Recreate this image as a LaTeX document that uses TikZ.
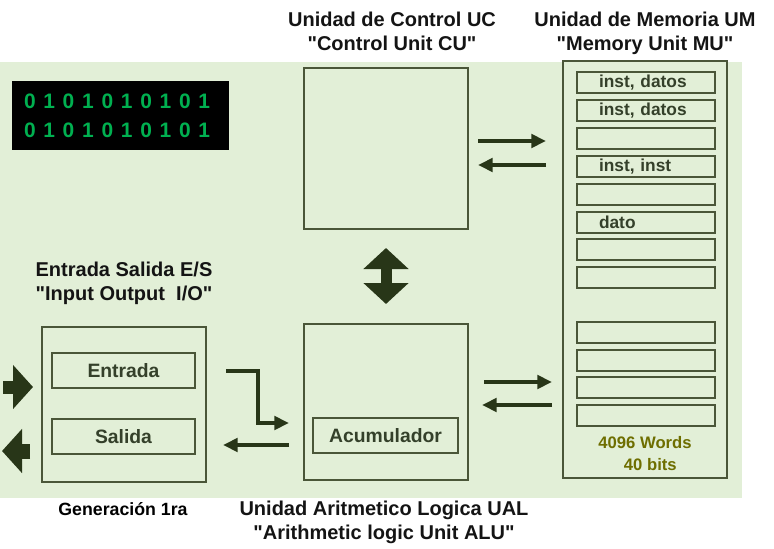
\documentclass[tikz,border=0pt]{standalone}
\usepackage{fontspec}
\setmainfont{Liberation Sans}[Ligatures=TeXOff]
\usetikzlibrary{arrows.meta, positioning}
\definecolor{bakgrunn}{HTML}{E2EFD7}
\definecolor{kant}{HTML}{4A5638}
\definecolor{mork}{HTML}{283618}
\definecolor{tekst}{HTML}{34402A}
\definecolor{bitgronn}{HTML}{00B050}
\definecolor{oliven}{HTML}{6E6E00}
\newcommand{\mellom}{\hspace{.37em}}
\newcommand{\bitrad}{0\mellom1\mellom0\mellom1\mellom0\mellom1\mellom0\mellom1\mellom0\mellom1}

\begin{document}
\begin{tikzpicture}[
        x=0.75pt, y=-0.75pt,
        boks/.style = {rectangle, draw=kant, line width=1.5pt, inner sep=0pt, text=tekst, font=\fontsize{14.5}{17}\selectfont\bfseries},
        celle/.style = {boks, minimum height=15.75pt, text width=70.5pt, inner xsep=16.5pt, align=left, font=\fontsize{13}{15}\selectfont\bfseries},
        titel/.style = {align=center, text=black!92, font=\fontsize{15}{18}\selectfont\bfseries},
        pil/.style = {mork, line width=3pt, -{Triangle[length=11pt, width=10pt]}},
        storpil/.style = {mork, -{Triangle[length=15pt, width=32.25pt]}}
        ]
        \useasboundingbox (0,0) rectangle (774,549);
        \fill[bakgrunn] (0,62) rectangle (742,498);

        \node[fill=black, minimum height=51.75pt, text width=144.75pt, inner xsep=9pt, align=left, text=bitgronn, font=\fontsize{15.7}{21.75}\selectfont\bfseries] (bits) at (120.5,115.5) {\bitrad\\\bitrad};

        \node[boks, minimum width=123pt, minimum height=120.75pt] (cu) at (386,148.5) {};
        \node[boks, minimum width=123pt, minimum height=117pt] (alu) [below=69.75pt of cu] {};
        \node[boks, minimum width=108.75pt, minimum height=26.25pt] (acc) at (385.5,435.5) {Acumulador};
        \node[boks, minimum width=123pt, minimum height=116.25pt] (io) at (124,404.5) {};
        \node[boks, minimum width=107.25pt, minimum height=26.25pt] (entrada) at (123.5,370.5) {Entrada};
        \node[boks, minimum width=107.25pt, minimum height=26.25pt] (salida) [below=21.75pt of entrada] {Salida};
        \node[boks, minimum width=123pt, minimum height=312.75pt] (mu) at (645,269.5) {};
        \foreach \i/\t in {0/{inst, datos},1/{inst, datos},2/{},3/{inst, inst},4/{},5/dato,6/{},7/{}}
          \node[celle] (c\i) at (646,82.5+27.9*\i) {\t};
        \foreach \i in {0,...,3}
          \node[celle] (d\i) at (646,332.5+27.5*\i) {};
        \node[align=center, text=oliven, font=\fontsize{12.5}{16.5}\selectfont\bfseries] (ord) at (645,454) {4096 Words\\\hspace{8pt}40 bits};

        \node[titel] (cutitel) at (392,31.5) {Unidad de Control UC\\"Control Unit CU"};
        \node[titel] (mutitel) at (645,33.5) {Unidad de Memoria UM\\"Memory Unit MU"};
        \node[titel] (iotitel) at (124,283) {Entrada Salida E/S\\"Input Output~~I/O"};
        \node[titel] (alutitel) at (384,522) {Unidad Aritmetico Logica UAL\\"Arithmetic logic Unit ALU"};
        \node[font=\fontsize{13.3}{16}\selectfont\bfseries, anchor=base] (gen) at (123,515) {Generación 1ra};

        \coordinate (knekk) at (258,423);
        \coordinate (inn) at (3,387);
        \coordinate (ut) at (2,451);

        \draw[pil, shorten <=6.75pt, shorten >=12pt] (cu.east |- 0,141) -- (mu.west |- 0,141);
        \draw[pil, shorten <=12pt, shorten >=6.75pt] (mu.west |- 0,165) -- (cu.east |- 0,165);
        \draw[pil, shorten <=11.25pt, shorten >=7.5pt] (alu.east |- 0,382) -- (mu.west |- 0,382);
        \draw[pil, shorten <=7.5pt, shorten >=9.75pt] (mu.west |- 0,405) -- (alu.east |- 0,405);
        \draw[pil, shorten <=22.5pt, shorten >=10.5pt] (entrada.east) -| (knekk) -- (alu.west |- knekk);
        \draw[pil, shorten <=10.5pt, shorten >=20.25pt] (alu.west |- 0,445) -- (salida.east |- 0,445);
        \draw[mork, line width=8.25pt, {Triangle[length=15.75pt, width=33pt]}-{Triangle[length=15.75pt, width=33pt]}, shorten <=13.5pt, shorten >=14.25pt] (cu.south) -- (alu.north);
        \draw[storpil, line width=9.75pt, shorten >=6pt] (inn) -- (io.west |- inn);
        \draw[storpil, line width=11.25pt, shorten <=8.25pt] (io.west |- ut) -- (ut);
\end{tikzpicture}
\end{document}
